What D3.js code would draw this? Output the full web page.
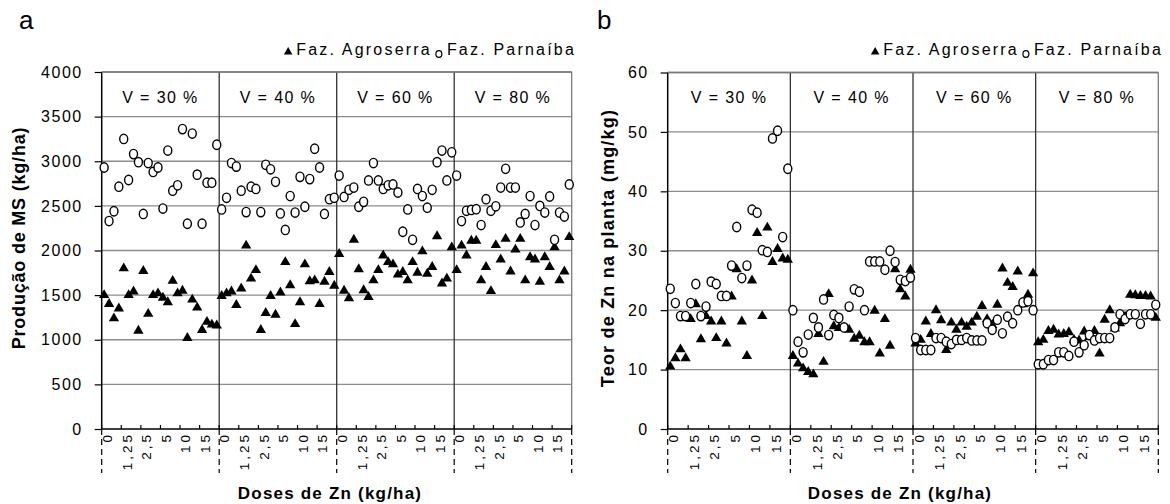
<!DOCTYPE html>
<html><head><meta charset="utf-8">
<script src="https://cdn.jsdelivr.net/npm/d3@7"></script>
<style>
body{margin:0;background:#fff}
text{font-family:Arial,"Liberation Sans",sans-serif;fill:#000}
</style>
</head><body>
<svg id="c" width="1170" height="504"></svg>
<script>
// ---------- data ----------
const groups = ["V = 30 %", "V = 40 %", "V = 60 %", "V = 80 %"];
const doses = ["0", "1,25", "2,5", "5", "10", "15"];
const reps = 4;
const seriesNames = ["Faz. Agroserra", "Faz. Parnaíba"];

const prodTicks = [0, 500, 1000, 1500, 2000, 2500, 3000, 3500, 4000];
const znTicks = [0, 10, 20, 30, 40, 50, 60];

// Produção de MS (kg/ha) – Faz. Agroserra (4 x 24 values, V = 30, 40, 60, 80 %)
const prodAgroserra = [
  1500,1400,1240,1350,1800,1500,1540,1100,1770,1290,1500,1520,1470,1420,1660,1520,1550,1020,1450,1360,1110,1200,1170,1160,
  1490,1520,1540,1390,1575,2055,1685,1780,1110,1300,1490,1280,1530,1870,1610,1175,1420,1845,1655,1665,1400,1650,1760,1605,
  1960,1550,1465,2120,1790,1555,1480,1665,1780,1945,1870,1845,1730,1760,1665,1870,1750,1990,1740,1815,2160,1630,1685,2035,
  1780,2055,1945,2110,2110,1665,1815,1545,2060,1900,2130,1765,2010,2130,1665,1925,1900,1650,1925,1815,2035,1665,1765,2150
];
// Produção de MS (kg/ha) – Faz. Parnaíba
const prodParnaiba = [
  2930,2330,2440,2715,3250,2790,3080,2990,2410,2980,2880,2930,2470,3120,2670,2730,3360,2300,3310,2850,2300,2760,2760,3185,
  2460,2590,2980,2940,2670,2430,2715,2690,2430,2960,2910,2770,2415,2230,2610,2425,2825,2490,2800,3140,2930,2410,2575,2590,
  2840,2600,2680,2705,2490,2545,2785,2980,2785,2690,2730,2740,2650,2210,2460,2120,2690,2610,2480,2680,2990,3120,2785,3100,
  2840,2330,2445,2455,2463,2285,2575,2445,2495,2705,2915,2705,2705,2315,2410,2610,2285,2500,2425,2605,2120,2425,2380,2740
];
// Teor de Zn na planta (mg/kg) – Faz. Agroserra
const znAgroserra = [
  10.5,11.9,13.4,11.9,18.5,21.0,15.1,19.0,18.1,15.3,18.1,14.4,22.3,26.9,18.1,12.3,25.0,33.0,19.0,33.9,28.1,30.3,28.7,28.5,
  12.3,11.0,10.2,9.6,9.2,16.0,11.3,22.7,17.3,17.0,17.0,16.7,15.2,15.7,14.6,14.6,19.9,12.7,18.5,14.0,26.9,23.5,22.3,26.8,
  14.4,15.0,18.1,16.0,20.0,18.3,13.3,17.9,16.7,17.9,17.2,17.9,18.9,20.7,18.5,17.5,20.9,27.0,24.6,23.9,26.5,21.0,22.6,26.2,
  14.6,15.0,16.5,16.7,15.9,16.0,16.3,15.0,14.9,16.4,15.5,16.5,12.7,18.4,20.0,16.9,17.8,18.9,22.6,22.5,22.4,22.4,22.3,18.7
];
// Teor de Zn na planta (mg/kg) – Faz. Parnaíba
const znParnaiba = [
  23.6,21.2,19.0,19.0,21.2,24.4,19.0,20.6,24.8,24.4,22.4,22.4,27.5,34.0,25.4,27.5,36.9,36.4,30.1,29.8,48.9,50.2,32.3,43.8,
  20.0,14.7,12.9,15.9,18.7,17.1,21.8,15.8,19.2,18.7,17.1,20.6,23.5,23.1,20.0,28.2,28.2,28.2,26.8,30.0,28.1,25.1,24.9,25.5,
  15.3,13.3,13.3,13.3,15.3,15.3,14.7,14.3,15.0,15.0,15.3,14.9,14.9,14.9,17.8,16.7,18.4,16.1,18.9,17.8,20.0,21.3,21.5,20.0,
  10.9,10.9,11.6,11.6,12.9,12.9,12.3,14.7,12.9,14.1,15.8,14.9,15.3,15.3,15.3,17.1,19.3,18.5,19.3,19.3,17.7,19.3,19.3,20.9
];

// ---------- drawing ----------
const svg = d3.select("#c");
svg.append("rect").attr("width", 1170).attr("height", 504).attr("fill", "#fff");

function drawPanel(p) {
  const g = svg.append("g");
  const n = groups.length * doses.length * reps;
  const x = d3.scaleBand().domain(d3.range(n)).range([p.left, p.right]);
  const y = d3.scaleLinear().domain([0, p.ticks[p.ticks.length - 1]]).range([p.bottom, p.top]);
  const bw = x.bandwidth();
  const xAt = i => (i >= n ? p.right : x(i));

  // gridlines
  g.append("g").selectAll("line").data(p.ticks.slice(1)).join("line")
    .attr("x1", p.left).attr("x2", p.right)
    .attr("y1", d => y(d)).attr("y2", d => y(d))
    .attr("stroke", "#8c8c8c").attr("stroke-width", 1.3);

  // right border
  g.append("line").attr("x1", p.right).attr("x2", p.right).attr("y1", p.top).attr("y2", p.bottom)
    .attr("stroke", "#7a7a7a").attr("stroke-width", 1.3);

  // group separators
  g.append("g").selectAll("line").data(d3.range(1, groups.length)).join("line")
    .attr("x1", k => xAt(k * doses.length * reps)).attr("x2", k => xAt(k * doses.length * reps))
    .attr("y1", p.top).attr("y2", p.bottom)
    .attr("stroke", "#333").attr("stroke-width", 1.3);

  // y axis
  const ya = d3.axisLeft(y).tickValues(p.ticks).tickSize(7).tickPadding(12).tickFormat(d3.format("d"));
  const yg = g.append("g").attr("transform", `translate(${p.left},0)`).call(ya);
  yg.select(".domain").attr("stroke", "#000").attr("stroke-width", 1.5).attr("d", `M0,${p.bottom}V${p.top}`);
  yg.selectAll(".tick line").attr("stroke", "#000").attr("stroke-width", 1.2);
  yg.selectAll(".tick text").attr("font-size", 16).attr("letter-spacing", 1.5)
    .attr("font-family", "Arial, Liberation Sans, sans-serif").attr("fill", "#000");

  // x axis line
  g.append("line").attr("x1", p.left).attr("x2", p.right).attr("y1", p.bottom).attr("y2", p.bottom)
    .attr("stroke", "#000").attr("stroke-width", 1.6);

  // dose ticks (inward) and labels
  const doseIdx = d3.range(groups.length * doses.length + 1);
  g.append("g").selectAll("line").data(doseIdx).join("line")
    .attr("x1", j => xAt(j * reps)).attr("x2", j => xAt(j * reps))
    .attr("y1", p.bottom).attr("y2", p.bottom - 4)
    .attr("stroke", "#000").attr("stroke-width", 1.2);
  g.append("g").selectAll("text").data(d3.range(groups.length * doses.length)).join("text")
    .attr("transform", j => `translate(${x(j * reps) + 2 * bw + 0.5},${p.bottom + 3}) rotate(-90)`)
    .attr("text-anchor", "end")
    .attr("font-size", 13.5).attr("letter-spacing", 3)
    .text(j => doses[j % doses.length]);

  // dashed group separators below axis
  g.append("g").selectAll("line").data(d3.range(groups.length + 1)).join("line")
    .attr("x1", k => xAt(k * doses.length * reps)).attr("x2", k => xAt(k * doses.length * reps))
    .attr("y1", p.bottom).attr("y2", p.bottom + 44)
    .attr("stroke", "#000").attr("stroke-width", 1.2).attr("stroke-dasharray", "6,4");

  // top border
  g.append("line").attr("x1", p.left).attr("x2", p.right).attr("y1", p.top).attr("y2", p.top)
    .attr("stroke", "#7a7a7a").attr("stroke-width", 1.3);

  // group labels
  g.append("g").selectAll("text").data(groups).join("text")
    .attr("x", (d, k) => (xAt(k * 24) + xAt((k + 1) * 24)) / 2)
    .attr("y", 103).attr("text-anchor", "middle")
    .attr("font-size", 16).attr("letter-spacing", 1.4)
    .text(d => d);

  // triangles (Faz. Agroserra)
  const tri = d3.symbol(d3.symbolTriangle, 46);
  g.append("g").selectAll("path").data(p.s1).join("path")
    .attr("d", tri)
    .attr("transform", (d, i) => `translate(${x(i) + bw / 2},${y(d)})`)
    .attr("fill", "#000");
  // open circles (Faz. Parnaíba)
  g.append("g").selectAll("ellipse").data(p.s2).join("ellipse")
    .attr("cx", (d, i) => x(i) + bw / 2).attr("cy", d => y(d))
    .attr("rx", 4).attr("ry", 4.7)
    .attr("fill", "#fff").attr("stroke", "#000").attr("stroke-width", 1.4);

  // legend
  const lg = g.append("g");
  const t2 = lg.append("text").attr("x", p.legendEnd).attr("y", 55).attr("text-anchor", "end")
    .attr("font-size", 16).attr("letter-spacing", 2.2).text(seriesNames[1]);
  const w2 = t2.node().getComputedTextLength();
  lg.append("ellipse").attr("cx", p.legendEnd - w2 - 8).attr("cy", 54).attr("rx", 3).attr("ry", 3.4)
    .attr("fill", "#fff").attr("stroke", "#000").attr("stroke-width", 1.2);
  const t1End = p.legendEnd - w2 - 15;
  const t1 = lg.append("text").attr("x", t1End).attr("y", 55).attr("text-anchor", "end")
    .attr("font-size", 16).attr("letter-spacing", 2.2).text(seriesNames[0]);
  const w1 = t1.node().getComputedTextLength();
  lg.append("path").attr("d", d3.symbol(d3.symbolTriangle, 32))
    .attr("transform", `translate(${t1End - w1 - 8},${52})`).attr("fill", "#000");

  // panel letter
  g.append("text").attr("x", p.letterX).attr("y", 29).attr("font-size", 26).text(p.letter);

  // axis titles
  g.append("text").attr("transform", `translate(${p.yTitleX},${p.yTitleY}) rotate(-90)`)
    .attr("text-anchor", "middle").attr("font-weight", "bold").attr("font-size", 18)
    .attr("letter-spacing", p.yTitleLs).text(p.yTitle);
  g.append("text").attr("x", p.xTitleX).attr("y", 499).attr("text-anchor", "middle")
    .attr("font-weight", "bold").attr("font-size", 17).attr("letter-spacing", 1.2).text(p.xTitle);
}

drawPanel({
  left: 101.7, right: 571.7, top: 72, bottom: 429,
  ticks: prodTicks, s1: prodAgroserra, s2: prodParnaiba,
  legendEnd: 576, letter: "a", letterX: 19,
  yTitle: "Produção de MS (kg/ha)", yTitleX: 25, yTitleY: 238, yTitleLs: 0.8,
  xTitle: "Doses de Zn (kg/ha)", xTitleX: 330
});
drawPanel({
  left: 667.7, right: 1158.3, top: 72.5, bottom: 429,
  ticks: znTicks, s1: znAgroserra, s2: znParnaiba,
  legendEnd: 1163, letter: "b", letterX: 597,
  yTitle: "Teor de Zn na planta  (mg/kg)", yTitleX: 614, yTitleY: 248, yTitleLs: 1.2,
  xTitle: "Doses de Zn (kg/ha)", xTitleX: 900
});
</script>
</body></html>
